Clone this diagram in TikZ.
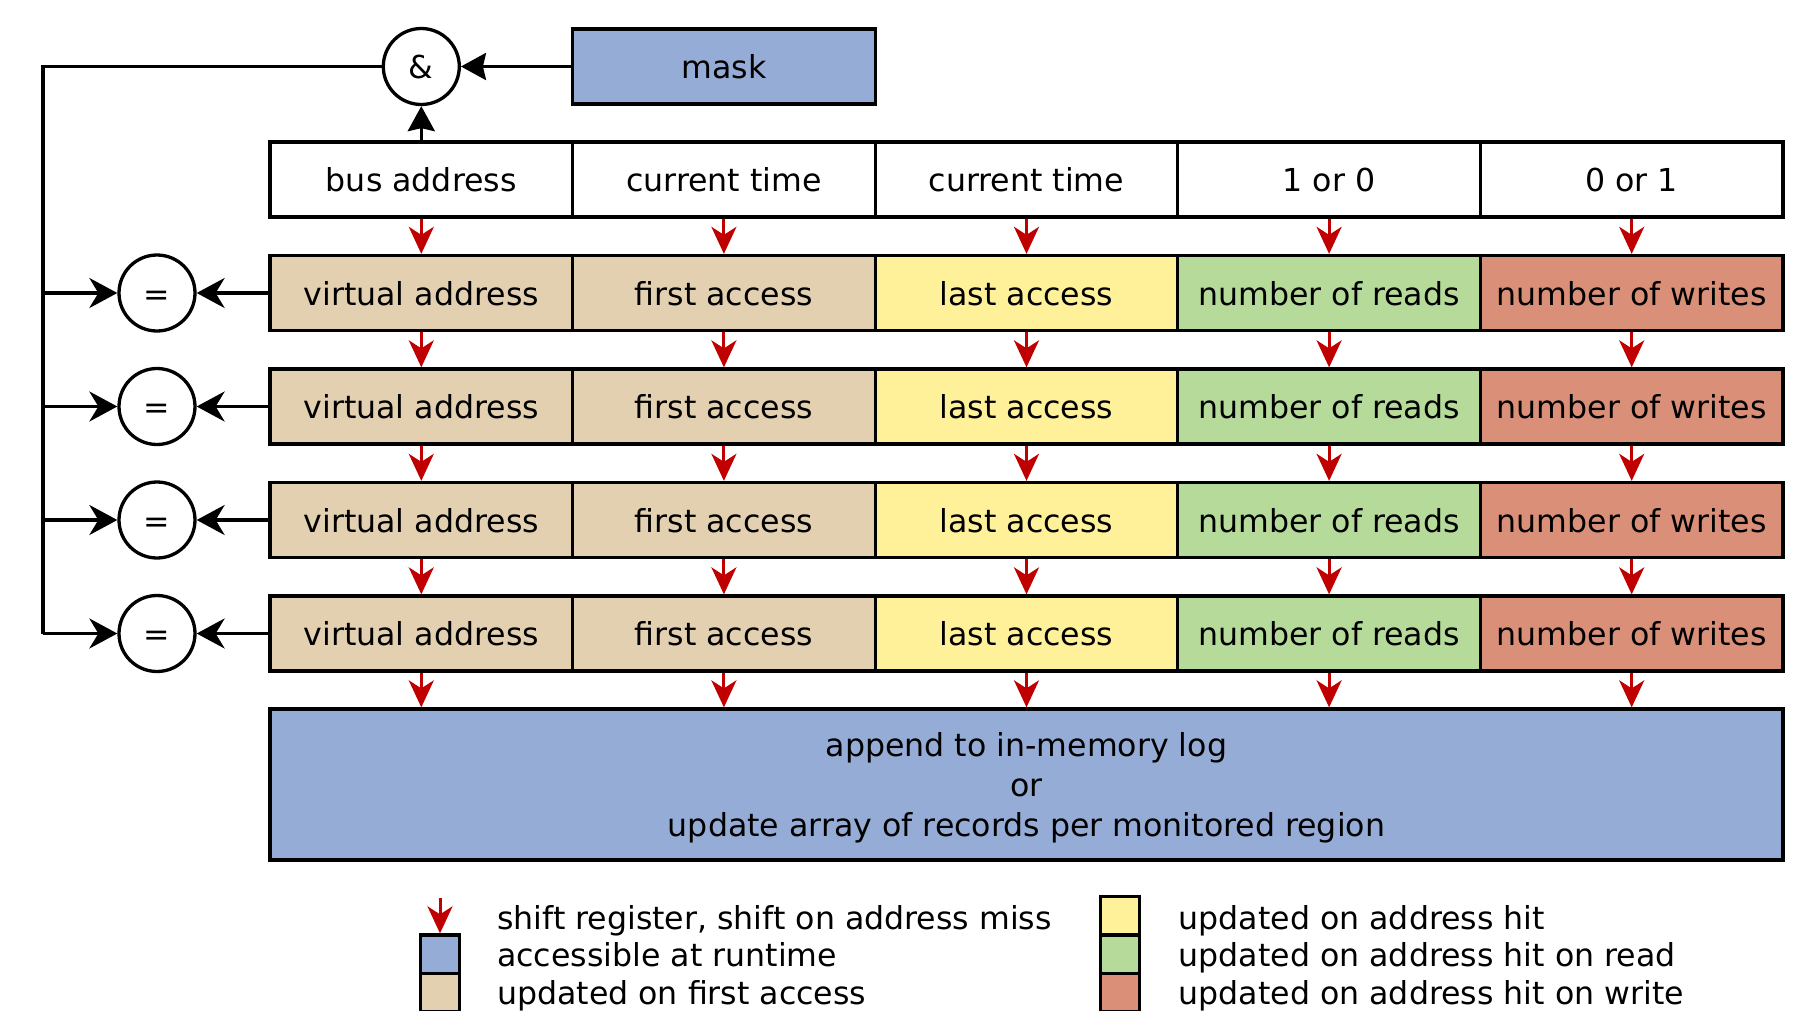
\documentclass[tikz,border=0pt]{standalone}
\usepackage{fontspec}
\setmainfont{DejaVu Sans}
\usetikzlibrary{arrows.meta}
\definecolor{cblue}{RGB}{149,172,214}
\definecolor{ctan}{RGB}{226,208,177}
\definecolor{cyellow}{RGB}{255,241,153}
\definecolor{cgreen}{RGB}{181,218,154}
\definecolor{cred}{RGB}{218,143,120}
\definecolor{arrred}{RGB}{192,0,0}
\begin{document}
\begin{tikzpicture}[x=1pt,y=-1pt,
  txt/.style={font=\fontsize{31.6}{40}\selectfont, text height=24pt, text depth=0pt},
  cell/.style={txt, draw, line width=3.3pt, minimum width=302.6pt, minimum height=75pt, inner sep=0pt},
  gate/.style={txt, draw, circle, line width=3.3pt, minimum size=76pt, inner sep=0pt},
  redarr/.style={draw=arrred, line width=3pt, -{Stealth[length=27pt,width=25pt,inset=8pt]}},
  blkarr/.style={draw=black, line width=3.3pt, -{Stealth[length=28pt,width=30pt,inset=9pt]}},
  blkarrb/.style={draw=black, line width=3.3pt, -{Stealth[length=25pt,width=27pt,inset=3pt]}},
  conn/.style={draw=black, line width=3.3pt},
  legbox/.style={draw, line width=3.3pt, minimum size=38.5pt, inner sep=0pt},
  legtxt/.style={txt, anchor=west, inner sep=0pt}
]
\useasboundingbox (0,0) rectangle (1807,1010);

% mask and & gate
\node[cell, fill=cblue] (mask) at (723.9,66.5) {mask};
\node[gate] (amp) at (421.3,66.5) {\&};

% top row
\node[cell] (r0c1) at (421.3,179.5) {bus address};
\node[cell] (r0c2) at (723.9,179.5) {current time};
\node[cell] (r0c3) at (1026.5,179.5) {current time};
\node[cell] (r0c4) at (1329.1,179.5) {1 or 0};
\node[cell] (r0c5) at (1631.7,179.5) {0 or 1};

% register rows
\foreach \r/\y in {1/293,2/406.5,3/520,4/633.5}{
  \node[cell, fill=ctan]    (r\r c1) at (421.3,\y)  {virtual address};
  \node[cell, fill=ctan]    (r\r c2) at (723.9,\y)  {first access};
  \node[cell, fill=cyellow] (r\r c3) at (1026.5,\y) {last access};
  \node[cell, fill=cgreen]  (r\r c4) at (1329.1,\y) {number of reads};
  \node[cell, fill=cred]    (r\r c5) at (1631.7,\y) {number of writes};
  \node[gate] (eq\r) at (157,\y) {=};
  \coordinate (j\r) at (43,\y);
}

% bottom box
\node[draw, line width=3.3pt, fill=cblue, minimum width=1513pt, minimum height=151pt,
      inner sep=0pt] (log) at (1026.5,784.5) {};
\node[align=center, inner sep=0pt, font=\fontsize{31.6}{40}\selectfont] (logtxt) at (1026.5,788)
  {append to in-memory log\\or\\update array of records per monitored region};

% red shift arrows
\foreach \c in {1,...,5}{
  \draw[redarr] (r0c\c) -- (r1c\c);
  \draw[redarr] (r1c\c) -- (r2c\c);
  \draw[redarr] (r2c\c) -- (r3c\c);
  \draw[redarr] (r3c\c) -- (r4c\c);
  \draw[redarr] (r4c\c.south) -- (r4c\c.south |- log.north);
}

% black connectors
\draw[blkarrb] (mask) -- (amp);
\draw[blkarrb] (r0c1) -- (amp);
\coordinate (lt) at (43,66.5);
\draw[conn] (amp.west) -- (lt) -- (j4);
\foreach \r in {1,...,4}{
  \draw[blkarr] (j\r) -- (eq\r);
  \draw[blkarr] (r\r c1) -- (eq\r);
}

% legend
\node[legbox, fill=cblue] (lb1) at (440,954.25) {};
\node[legbox, fill=ctan]  (lb2) at (440,992.75) {};
\coordinate (la) at (440,898);
\draw[redarr] (la) -- (lb1.north);
\node[legtxt] (lt1) at (497,917) {shift register, shift on address miss};
\node[legtxt] (lt2) at (497,954.5) {accessible at runtime};
\node[legtxt] (lt3) at (497,992) {updated on first access};

\node[legbox, fill=cyellow] (rb1) at (1120,915.75) {};
\node[legbox, fill=cgreen]  (rb2) at (1120,954.25) {};
\node[legbox, fill=cred]    (rb3) at (1120,992.75) {};
\node[legtxt] (rt1) at (1178.5,917) {updated on address hit};
\node[legtxt] (rt2) at (1178.5,954.5) {updated on address hit on read};
\node[legtxt] (rt3) at (1178.5,992) {updated on address hit on write};
\end{tikzpicture}
\end{document}
